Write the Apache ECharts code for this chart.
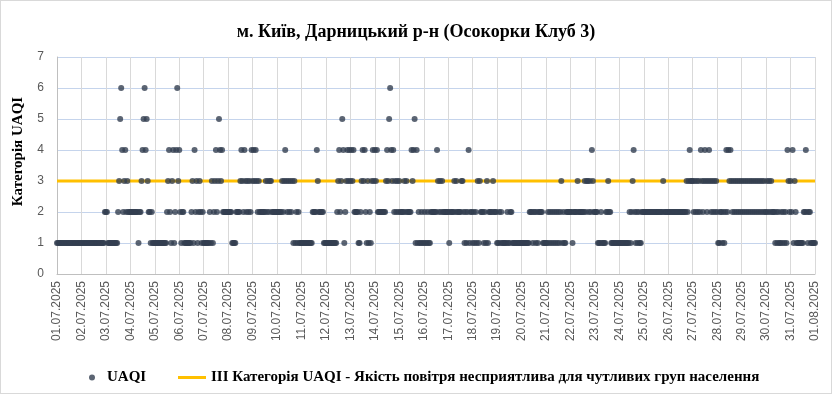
<!DOCTYPE html>
<html>
<head>
<meta charset="utf-8">
<script src="https://cdn.jsdelivr.net/npm/echarts@6/dist/echarts.min.js"></script>
<style>
html,body{margin:0;padding:0;background:#fff;}
#chart{width:832px;height:394px;box-sizing:border-box;border:1px solid #d9d9d9;}
</style>
</head>
<body>
<div id="chart"></div>
<script>
// Day tick labels (one per 24 hours)
const dayLabels = ["01.07.2025","02.07.2025","03.07.2025","04.07.2025","05.07.2025","06.07.2025","07.07.2025","08.07.2025","09.07.2025","10.07.2025","11.07.2025","12.07.2025","13.07.2025","14.07.2025","15.07.2025","16.07.2025","17.07.2025","18.07.2025","19.07.2025","20.07.2025","21.07.2025","22.07.2025","23.07.2025","24.07.2025","25.07.2025","26.07.2025","27.07.2025","28.07.2025","29.07.2025","30.07.2025","31.07.2025","01.08.2025"];
const hoursPerDay = 24;

// Hourly UAQI category values, one row per day
const hourlyUAQI = [
  1,1,1,1,1,1,1,1,1,1,1,1,1,1,1,1,1,1,1,1,1,1,1,1,
  1,1,1,1,1,1,1,1,1,1,1,1,1,1,1,1,1,1,1,1,1,1,1,2,
  2,2,1,1,1,1,1,1,1,1,1,1,2,3,5,6,4,2,3,4,2,3,2,2,
  2,2,2,2,2,2,2,2,1,2,2,3,4,5,6,4,5,3,2,2,1,2,1,1,
  1,1,1,1,1,1,1,1,1,1,1,1,2,3,4,2,1,3,4,1,2,4,6,3,
  4,2,1,2,2,1,1,1,1,1,1,1,2,3,1,4,2,3,1,2,3,2,1,2,
  1,1,1,1,1,1,2,1,3,1,2,3,4,2,3,5,4,3,4,2,2,2,2,2,
  2,2,2,2,1,1,1,1,2,2,2,2,3,4,3,2,4,3,2,3,2,3,2,4,
  3,4,3,4,3,2,3,2,2,2,2,2,2,3,2,3,2,3,3,2,2,2,2,2,
  2,2,2,2,2,3,2,3,4,3,2,3,2,3,2,3,1,3,1,2,1,2,1,1,
  1,1,1,1,1,1,1,1,1,1,1,2,2,2,2,4,3,2,2,2,2,2,1,1,
  1,1,1,1,1,1,1,1,1,1,1,2,3,4,2,3,5,4,1,2,3,4,3,4,
  3,4,3,4,2,2,2,2,1,1,2,3,4,3,4,2,1,3,1,2,1,3,4,3,
  4,3,4,2,2,2,2,2,2,2,2,3,4,3,5,6,4,3,4,2,3,2,3,2,
  3,2,2,2,2,3,2,3,2,2,2,2,4,3,4,5,1,4,1,2,1,1,2,1,
  1,2,1,1,2,1,1,2,2,2,2,2,2,4,3,2,3,2,3,2,2,2,2,2,
  2,1,2,2,2,2,3,2,3,2,2,2,2,3,3,2,1,2,1,2,4,1,2,2,
  1,2,1,2,1,3,1,3,2,2,2,1,2,1,3,1,2,2,2,2,3,2,2,2,
  1,1,2,1,2,1,1,1,1,1,2,1,1,2,2,1,1,1,1,1,1,1,1,1,
  1,1,1,1,1,1,1,1,2,2,2,1,2,2,1,2,1,2,2,2,2,1,1,1,
  1,1,2,1,2,1,2,1,2,1,2,1,2,1,2,3,1,2,1,1,2,2,2,2,
  2,2,1,2,2,2,2,3,2,2,2,2,2,2,3,2,3,3,2,3,2,4,3,2,
  2,2,2,1,1,1,2,1,1,1,1,2,2,3,2,2,1,1,1,1,1,1,1,1,
  1,1,1,1,1,1,1,1,1,1,2,1,2,3,4,2,1,2,1,2,1,1,2,2,
  2,2,2,2,2,2,2,2,2,2,2,2,2,2,2,2,2,2,2,3,2,2,2,2,
  2,2,2,2,2,2,2,2,2,2,2,2,2,2,2,2,2,2,3,2,3,4,3,3,
  3,2,3,2,3,2,3,2,4,3,2,3,4,3,2,3,4,3,2,3,2,3,2,3,
  2,1,1,2,2,1,2,1,2,4,2,4,3,4,3,2,3,2,3,2,3,2,3,2,
  3,2,3,2,3,2,3,2,3,2,3,2,3,2,3,2,3,2,3,2,3,2,3,2,
  2,3,2,3,2,3,2,2,2,1,2,1,2,1,1,2,1,2,1,2,1,4,3,2,
  3,2,4,1,3,2,1,1,1,1,1,1,1,2,2,4,2,1,2,2,1,1,1,1,
  1
];

const thresholdValue = 3;
const yMin = 0, yMax = 7, yStep = 1;

const seriesNameUAQI = "UAQI";
const seriesNameThreshold = "III Категорія UAQI - Якість повітря несприятлива для чутливих груп населення";
const titleText = "м. Київ, Дарницький р-н (Осокорки Клуб 3)";
const yAxisName = "Категорія UAQI";

const xMax = (dayLabels.length - 1) * hoursPerDay;
const chart = echarts.init(document.getElementById('chart'));
const serif = "'Liberation Serif','Times New Roman',serif";
const sans = "'Liberation Sans',Arial,sans-serif";

chart.setOption({
  animation: false,
  title: {
    text: titleText,
    left: 'center',
    top: 17,
    textStyle: { fontFamily: serif, fontWeight: 'bold', fontSize: 18, color: '#000' }
  },
  grid: { left: 56, right: 16, top: 56, bottom: 119, containLabel: false },
  xAxis: {
    type: 'value',
    min: 0,
    max: xMax,
    interval: hoursPerDay,
    axisLine: { show: true, lineStyle: { color: '#bfbfbf', width: 1 } },
    axisTick: { show: false },
    splitLine: { show: true, lineStyle: { color: '#d9d9d9', width: 1 } },
    axisLabel: {
      rotate: 90,
      margin: 7,
      fontFamily: sans,
      fontSize: 12,
      color: '#595959',
      formatter: function (v) { return dayLabels[Math.round(v / hoursPerDay)] || ''; }
    }
  },
  yAxis: {
    type: 'value',
    min: yMin,
    max: yMax,
    interval: yStep,
    name: yAxisName,
    nameLocation: 'middle',
    nameGap: 31,
    nameTextStyle: { fontFamily: serif, fontWeight: 'bold', fontSize: 15, color: '#000', padding: [0, 0, 0, 28] },
    axisLine: { show: true, lineStyle: { color: '#bfbfbf', width: 1 } },
    axisTick: { show: false },
    splitLine: { show: true, lineStyle: { color: '#c5d4ec', width: 1 } },
    axisLabel: { fontFamily: sans, fontSize: 12, color: '#595959', margin: 13 }
  },
  legend: [
    {
      data: [{ name: seriesNameUAQI, icon: 'circle' }],
      left: 83,
      top: 364,
      itemWidth: 6,
      itemHeight: 6,
      textStyle: { fontFamily: serif, fontWeight: 'bold', fontSize: 15, color: '#000', padding: [0, 0, 0, 7] }
    },
    {
      data: [{ name: seriesNameThreshold, icon: 'rect' }],
      left: 172,
      top: 364,
      itemWidth: 28,
      itemHeight: 3,
      textStyle: { fontFamily: serif, fontWeight: 'bold', fontSize: 15, color: '#000', padding: [0, 0, 0, 0] }
    }
  ],
  series: [
    {
      name: seriesNameThreshold,
      type: 'line',
      data: [[0, thresholdValue], [xMax, thresholdValue]],
      symbol: 'none',
      lineStyle: { color: '#ffc000', width: 3 },
      itemStyle: { color: '#ffc000' },
      z: 2
    },
    {
      name: seriesNameUAQI,
      type: 'scatter',
      data: hourlyUAQI.map(function (v, i) { return [i, v]; }),
      symbol: 'circle',
      symbolSize: 6,
      itemStyle: { color: '#333f50' },
      z: 3
    }
  ]
});
</script>
</body>
</html>
